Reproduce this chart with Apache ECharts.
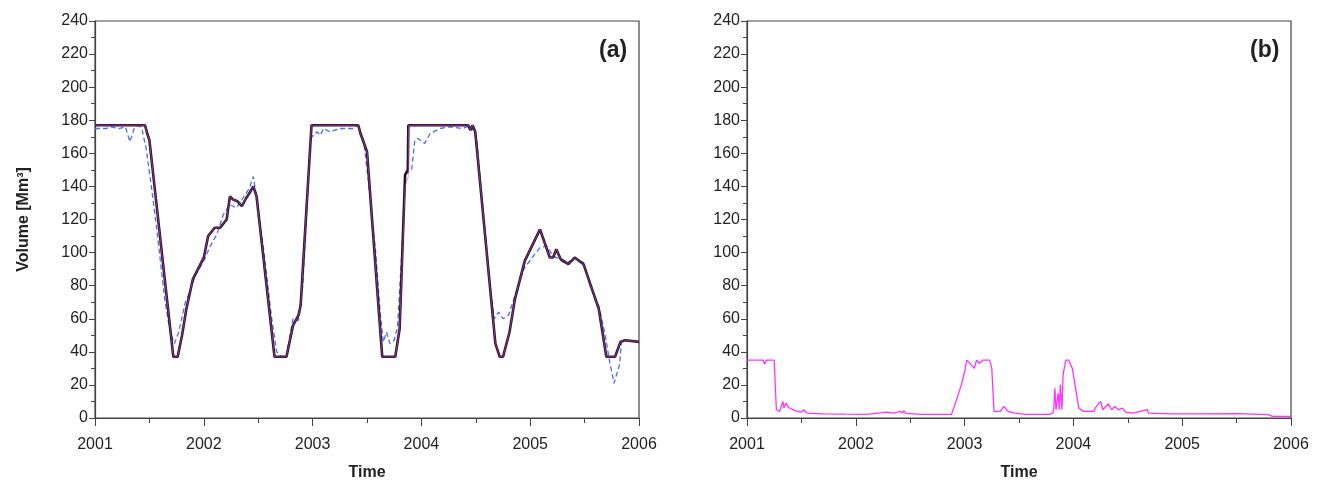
<!DOCTYPE html>
<html>
<head>
<meta charset="utf-8">
<script src="https://cdn.jsdelivr.net/npm/echarts@6/dist/echarts.min.js"></script>
<style>
  html, body { margin: 0; padding: 0; background: #fff; }
  #chart { width: 1320px; height: 486px; }
</style>
</head>
<body>
<div id="chart"></div>
<script>
// 年份刻度
var yearTicks = [2001, 2002, 2003, 2004, 2005, 2006];

// (a) 实测 (黑色粗线)
var obsA = [[2001.0,177],[2001.46,177],[2001.48,172],[2001.50,168],[2001.72,37],[2001.76,37],[2001.80,50],[2001.84,66],[2001.90,84],[2002.0,97],[2002.04,110],[2002.10,115],[2002.15,115],[2002.21,120],[2002.24,134],[2002.27,132],[2002.31,131],[2002.35,128],[2002.39,133],[2002.42,136],[2002.455,140],[2002.485,134],[2002.65,37],[2002.76,37],[2002.82,56],[2002.87,62],[2002.89,68],[2002.99,177],[2003.42,177],[2003.44,172],[2003.50,161],[2003.64,37],[2003.76,37],[2003.80,54],[2003.85,147],[2003.875,150],[2003.88,177],[2004.43,177],[2004.45,174],[2004.47,177],[2004.495,173],[2004.68,45],[2004.72,37],[2004.75,37],[2004.81,52],[2004.86,72],[2004.95,95],[2005.09,114],[2005.18,97],[2005.21,97],[2005.24,102],[2005.28,96],[2005.35,93],[2005.41,97],[2005.49,93],[2005.63,66],[2005.70,37],[2005.78,37],[2005.83,46],[2005.87,47],[2006.0,46]];

// (a) 模拟 (品红细线)
var simA = [[2001.0,177],[2001.46,177],[2001.48,172],[2001.50,168],[2001.72,37],[2001.76,37],[2001.80,50],[2001.84,66],[2001.90,84],[2002.0,97],[2002.04,110],[2002.10,115],[2002.15,115],[2002.21,120],[2002.24,134],[2002.27,132],[2002.31,131],[2002.35,128],[2002.39,133],[2002.42,136],[2002.455,140],[2002.485,134],[2002.65,37],[2002.76,37],[2002.82,56],[2002.87,62],[2002.89,68],[2002.99,177],[2003.42,177],[2003.44,172],[2003.50,161],[2003.64,37],[2003.76,37],[2003.80,54],[2003.85,140],[2003.88,146],[2003.882,177],[2004.43,177],[2004.45,174],[2004.47,177],[2004.495,173],[2004.68,45],[2004.72,37],[2004.75,37],[2004.81,52],[2004.86,72],[2004.95,95],[2005.09,114],[2005.18,97],[2005.21,97],[2005.24,102],[2005.28,96],[2005.35,93],[2005.41,97],[2005.49,93],[2005.63,66],[2005.70,37],[2005.78,37],[2005.83,46],[2005.87,47],[2006.0,46]];

// (a) 预测 (蓝色虚线)
var estA = [[2001.0,175],[2001.1,175],[2001.15,176],[2001.22,175],[2001.28,176],[2001.32,167],[2001.36,175],[2001.40,177],[2001.43,175],[2001.47,163],[2001.52,139],[2001.57,113],[2001.64,72],[2001.69,52],[2001.73,45],[2001.77,52],[2001.83,70],[2001.87,76],[2001.92,86],[2002.0,95],[2002.06,104],[2002.12,111],[2002.18,123],[2002.24,129],[2002.30,127],[2002.36,133],[2002.42,139],[2002.455,146],[2002.485,133],[2002.55,102],[2002.62,62],[2002.67,40],[2002.715,37],[2002.76,38],[2002.82,60],[2002.87,59],[2002.91,80],[2002.98,169],[2003.04,173],[2003.07,171],[2003.10,175],[2003.16,173],[2003.25,175],[2003.37,175],[2003.42,177],[2003.47,167],[2003.51,145],[2003.58,100],[2003.62,65],[2003.65,46],[2003.68,52],[2003.71,45],[2003.75,47],[2003.78,55],[2003.82,100],[2003.85,147],[2003.91,150],[2003.94,168],[2003.97,169],[2004.03,166],[2004.08,172],[2004.17,175],[2004.26,176],[2004.38,175],[2004.45,177],[2004.49,172],[2004.51,167],[2004.57,123],[2004.63,80],[2004.67,60],[2004.71,64],[2004.75,60],[2004.80,62],[2004.86,74],[2004.94,90],[2005.03,98],[2005.09,103],[2005.15,104],[2005.21,98],[2005.27,96],[2005.33,93],[2005.40,97],[2005.49,94],[2005.55,80],[2005.63,68],[2005.69,50],[2005.73,34],[2005.77,21],[2005.82,32],[2005.84,46],[2005.9,47],[2006.0,46]];

// (b) 差值
var diffB = [[2001.0,35],[2001.15,35],[2001.16,32.5],[2001.18,35],[2001.25,35],[2001.27,5],[2001.30,4],[2001.33,10],[2001.34,6],[2001.36,9],[2001.38,6.5],[2001.44,4.5],[2001.50,3.5],[2001.52,5],[2001.55,3],[2001.7,2.5],[2001.9,2.3],[2002.1,2.2],[2002.28,3.5],[2002.35,3],[2002.41,4],[2002.43,3],[2002.44,4.5],[2002.46,2.8],[2002.6,2.2],[2002.88,2.2],[2002.90,6],[2002.94,14],[2002.97,20],[2003.0,28],[2003.02,35],[2003.05,33],[2003.09,30],[2003.11,35],[2003.135,33],[2003.17,35],[2003.23,35],[2003.25,30],[2003.27,4],[2003.33,4],[2003.36,7],[2003.40,4],[2003.46,3],[2003.56,2.2],[2003.78,2.2],[2003.81,3],[2003.82,6],[2003.83,18],[2003.84,5],[2003.86,15],[2003.87,5],[2003.88,20],[2003.895,5],[2003.905,26],[2003.93,35],[2003.955,35],[2003.99,30],[2004.02,18],[2004.05,6],[2004.09,4],[2004.19,4],[2004.20,6],[2004.215,5],[2004.25,10],[2004.27,5],[2004.32,8.5],[2004.35,5],[2004.38,7],[2004.415,5],[2004.45,6],[2004.48,3.5],[2004.55,3],[2004.68,5],[2004.69,3],[2004.9,2.5],[2005.2,2.5],[2005.5,2.7],[2005.79,2],[2005.83,1],[2006.0,1]];

var chart = echarts.init(document.getElementById('chart'));

var font = 'Liberation Sans, Arial, sans-serif';

function xAxisOf(idx){
  return {
    type: 'value', gridIndex: idx,
    min: yearTicks[0], max: yearTicks[yearTicks.length-1], interval: 1,
    name: 'Time', nameLocation: 'middle', nameGap: 47,
    nameTextStyle: { fontFamily: font, fontSize: 16, fontWeight: 'bold', color: '#222' },
    axisLine: { lineStyle: { color: '#444', width: 1.2 } },
    axisTick: { length: 8, lineStyle: { color: '#444' } },
    minorTick: { show: true, splitNumber: 2, length: 5, lineStyle: { color: '#444' } },
    axisLabel: { fontFamily: font, fontSize: 16, color: '#222', margin: 19,
      formatter: function(v){ return String(v); } },
    splitLine: { show: false }
  };
}

function yAxisOf(idx, withName){
  return {
    type: 'value', gridIndex: idx,
    min: 0, max: 240, interval: 20,
    name: withName ? 'Volume [Mm³]' : '', nameLocation: 'middle', nameGap: 63,
    nameTextStyle: { fontFamily: font, fontSize: 16, fontWeight: 'bold', color: '#222' },
    axisLine: { show: true, lineStyle: { color: '#444', width: 1.2 } },
    axisTick: { show: true, length: 6, lineStyle: { color: '#444' } },
    minorTick: { show: true, splitNumber: 2, length: 4, lineStyle: { color: '#444' } },
    axisLabel: { fontFamily: font, fontSize: 16, color: '#222', margin: 7 },
    splitLine: { show: false }
  };
}

var option = {
  backgroundColor: '#fff',
  animation: false,
  title: [
    { text: '(a)', left: 594, top: 34, textStyle: { fontFamily: font, fontSize: 23, fontWeight: 'bold', color: '#222' } },
    { text: '(b)', left: 1245, top: 34, textStyle: { fontFamily: font, fontSize: 23, fontWeight: 'bold', color: '#222' } }
  ],
  grid: [
    { left: 95, top: 21, width: 544, height: 399, show: true, borderColor: '#444', borderWidth: 1.2, backgroundColor: 'transparent' },
    { left: 747, top: 21, width: 544, height: 399, show: true, borderColor: '#444', borderWidth: 1.2, backgroundColor: 'transparent' }
  ],
  xAxis: [xAxisOf(0), xAxisOf(1)],
  yAxis: [yAxisOf(0, true), yAxisOf(1, false)],
  series: [
    { type: 'line', xAxisIndex: 0, yAxisIndex: 0, data: estA, showSymbol: false,
      lineStyle: { color: '#4d6cf2', width: 1.3, type: [5, 3] } },
    { type: 'line', xAxisIndex: 0, yAxisIndex: 0, data: obsA, showSymbol: false,
      lineStyle: { color: '#1a1a1a', width: 2.6 } },
    { type: 'line', xAxisIndex: 0, yAxisIndex: 0, data: simA, showSymbol: false,
      lineStyle: { color: '#ff33ff', width: 1, opacity: 0.55 } },
    { type: 'line', xAxisIndex: 1, yAxisIndex: 1, data: diffB, showSymbol: false,
      lineStyle: { color: '#ff33ff', width: 1.3 } }
  ]
};

chart.setOption(option);
</script>
</body>
</html>
